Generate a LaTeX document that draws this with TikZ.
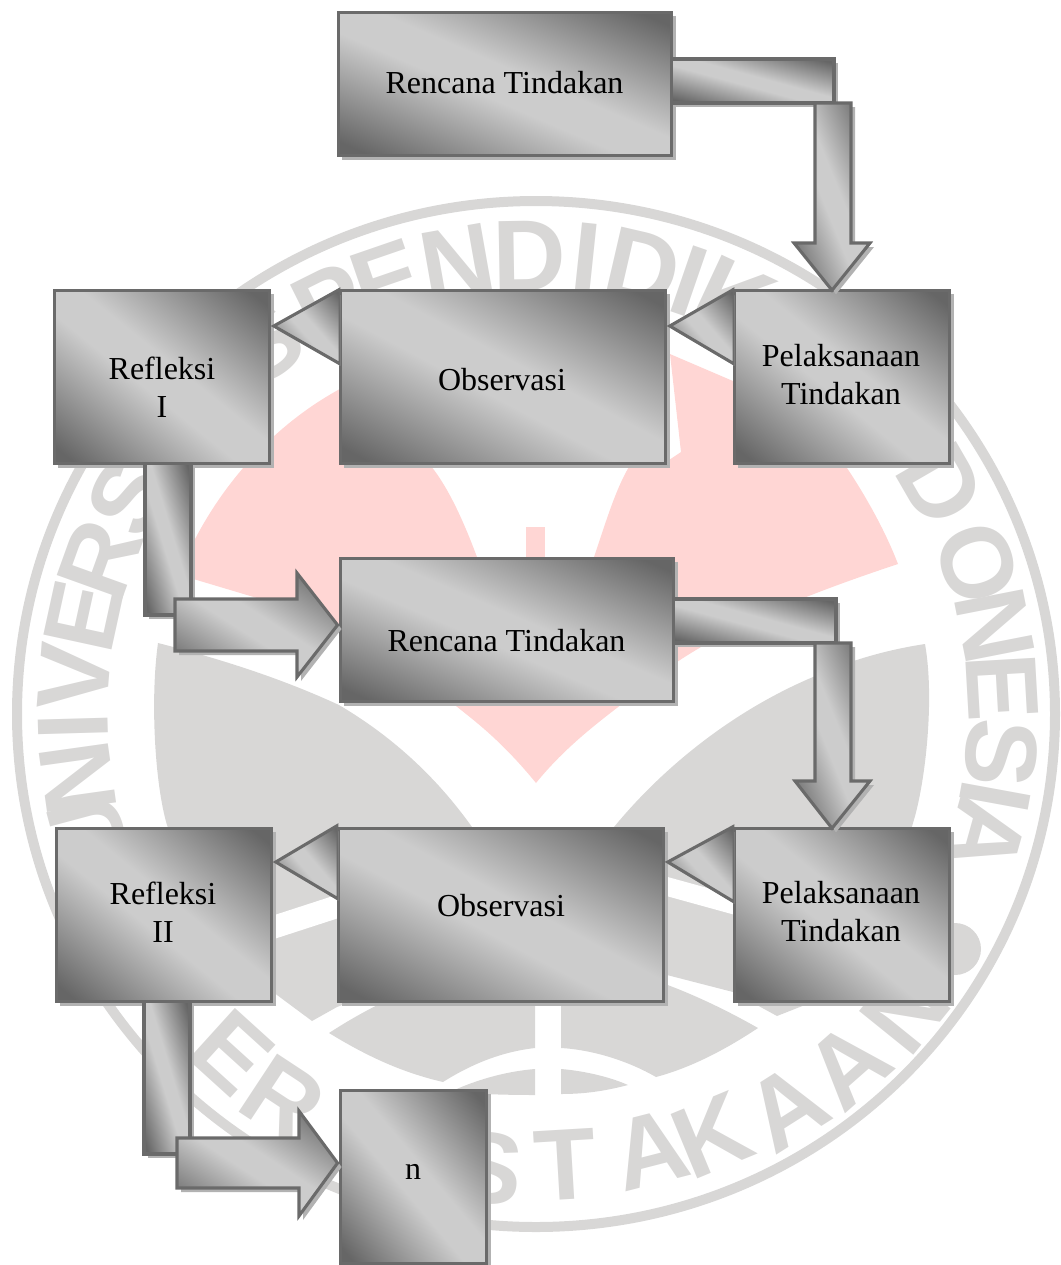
\documentclass[tikz,border=0pt]{standalone}
\usepackage{fontspec}
\setmainfont{Liberation Serif}
\setsansfont{Liberation Sans}
\usetikzlibrary{calc,shadows}

\definecolor{wmgrey}{RGB}{216,215,214}
\definecolor{wmpink}{RGB}{255,214,212}
\definecolor{boxline}{RGB}{106,106,106}
\definecolor{shdark}{RGB}{102,102,102}
\definecolor{shlight}{RGB}{204,204,204}
\definecolor{shadowgrey}{RGB}{178,178,178}

\pgfdeclareverticalshading{boxshade}{100bp}{color(0bp)=(shdark); color(5bp)=(shdark); color(43bp)=(shlight); color(56bp)=(shlight); color(95bp)=(shdark); color(100bp)=(shdark)}

% corner to corner gradient that follows the proportions of the shape
\makeatletter
\newcommand{\boxgradient}{%
    \begin{pgfscope}%
    \pgftransformreset
    \pgfpointdiff{\pgfpointanchor{path picture bounding box}{south west}}{\pgfpointanchor{path picture bounding box}{north east}}%
    \edef\gradw{\the\pgf@x}\edef\gradh{\the\pgf@y}%
    \pgf@process{\pgfpointanchor{path picture bounding box}{center}}%
    \edef\gradx{\the\pgf@x}\edef\grady{\the\pgf@y}%
    \pgfmathsetmacro\gradw{\gradw/100.375}%
    \pgfmathsetmacro\gradh{\gradh/100.375}%
    \pgftransformcm{\gradw}{-\gradh}{\gradw}{\gradh}{\pgfpoint{\gradx}{\grady}}%
    \pgflowlevelsynccm
    \pgftext{\pgfuseshading{boxshade}}%
    \end{pgfscope}%
}
\makeatother

\tikzset{
    shadeface/.style={draw=boxline,line width=2.3pt,path picture={\boxgradient}},
    flowshadow/.style={drop shadow={shadow xshift=3pt,shadow yshift=-3pt,fill=shadowgrey,opacity=1}},
    flowbox/.style 2 args={shadeface,flowshadow,rectangle,inner sep=0pt,outer sep=0pt,
        minimum width={(#1-2.5)*0.75pt},minimum height={(#2-2.5)*0.75pt}},
    flowarrow/.style={shadeface,flowshadow,line join=miter},
    boxtext/.style={align=center,text=black,font=\fontsize{24}{28.5}\selectfont},
    wmletter/.style={text=wmgrey,inner sep=0pt,font=\sffamily\bfseries\fontsize{76}{76}\selectfont}
}

\begin{document}
\begin{tikzpicture}[x=0.75pt,y=0.75pt,yscale=-1,xscale=1]
        \useasboundingbox (0,0) rectangle (1061,1265);

        %Watermark: ring
        \coordinate (wmc) at (538,714);
        \draw [wmgrey,line width=7.5pt] (536,714) ellipse [x radius=519,y radius=513];
        %Watermark: letters
        \foreach \a/\ch [count=\i] in {195/U,188/N,181.6/I,175.4/V,167.7/E,160.2/R,151.7/S,126/S,116.5/P,109/E,100/N,91/D,84/I,77/D,71/I,65/K,30/D,19.2/O,11.1/N,3.3/E,-4.9/S,-10.4/I,-15.5/A}
            \node [wmletter,rotate=\a-90] (uni\i) at ($(wmc)+({-(\a)}:465 and 458)$) {\ch};
        \foreach \a/\x/\y/\ch [count=\i] in {-132.2/232/1052/E,-123.4/283/1100/R,-96/489/1168/S,-86.6/565/1165/T,-75.6/650/1150/A,-67.5/712/1135/K,-57.6/787/1107/A,-48.6/848/1065/A,-38.9/905/1010/N}
            \node [wmletter,rotate=\a+90] (lib\i) at (\x,\y) {\ch};
        %Watermark: dot
        \fill [wmgrey] (955,949) circle [radius=26];

        %Watermark: pink heart
        \fill [wmpink] (180,575) -- (193,543) .. controls (225,480) and (275,425) .. (338,390) -- (402,354) -- (420,440) -- (431,466) .. controls (450,490) and (465,525) .. (477,557) -- (536,640) -- (594,557) .. controls (605,525) and (615,490) .. (630,465) -- (660,466) -- (681,452) -- (670,354) -- (733,381) -- (847,468) .. controls (865,495) and (885,530) .. (898,564) .. controls (820,590) and (740,620) .. (677,662) .. controls (620,707) and (575,735) .. (536,783) .. controls (505,745) and (480,725) .. (461,710) .. controls (400,660) and (330,625) .. (257,598) -- cycle;
        %Watermark: pink stem
        \fill [wmpink,draw=none] (526,527) rectangle (545,600);

        %Watermark: grey wings
        \fill [wmgrey] (158,643) .. controls (225,660) and (285,680) .. (339,705) .. controls (390,735) and (435,775) .. (472,827) -- (510,900) -- (490,950) -- (337,1007) -- (312,1021) -- (277,995) .. controls (225,950) and (190,890) .. (167,825) .. controls (155,785) and (150,700) .. (158,643) -- cycle;
        \fill [wmgrey] (925,644) .. controls (885,650) and (845,662) .. (813,677) .. controls (735,710) and (665,765) .. (614,827) -- (570,900) -- (590,950) -- (667,975) -- (733,992) -- (777,1016) -- (810,1003) .. controls (860,960) and (895,890) .. (913,823) .. controls (925,785) and (935,700) .. (925,644) -- cycle;
        %Watermark: white bands
        \draw [white,line width=17pt] (262,931) -- (342,905);
        \draw [white,line width=14pt] (658,884) -- (745,908);
        %Watermark: grey lenses
        \fill [wmgrey] (329,1033) .. controls (395,990) and (465,965) .. (535,960) -- (535,1048) .. controls (500,1052) and (470,1065) .. (443,1082) .. controls (400,1072) and (365,1055) .. (329,1033) -- cycle;
        \fill [wmgrey] (561,960) .. controls (630,965) and (700,995) .. (758,1028) .. controls (725,1050) and (690,1068) .. (656,1077) .. controls (630,1062) and (595,1050) .. (561,1048) -- cycle;
        \fill [wmgrey] (450,1092) .. controls (480,1078) and (510,1071) .. (535,1069) -- (535,1095) .. controls (505,1095) and (475,1094) .. (450,1092) -- cycle;
        \fill [wmgrey] (561,1069) .. controls (585,1071) and (610,1077) .. (628,1085) .. controls (605,1091) and (585,1094) .. (561,1094) -- cycle;

        %Shape: Boxes row 1
        \node [flowbox={336}{146}] (rt1) at (505,84) {};
        \node [boxtext] (rt1txt) at (504.5,83) {Rencana Tindakan};
        \node [flowbox={218}{176}] (rf1) at (162,377) {};
        \node [boxtext] (rf1txt) at (162,387) {Refleksi\\I};
        \node [flowbox={328}{176}] (ob1) at (503,377) {};
        \node [boxtext] (ob1txt) at (502,380) {Observasi};
        \node [flowbox={218}{176}] (pt1) at (842,377) {};
        \node [boxtext] (pt1txt) at (841,375) {Pelaksanaan\\Tindakan};
        %Shape: Boxes row 2
        \node [flowbox={336}{146}] (rt2) at (507,630) {};
        \node [boxtext] (rt2txt) at (506.5,641) {Rencana Tindakan};
        %Shape: Boxes row 3
        \node [flowbox={218}{176}] (rf2) at (164,915) {};
        \node [boxtext] (rf2txt) at (163,912) {Refleksi\\II};
        \node [flowbox={328}{176}] (ob2) at (501,915) {};
        \node [boxtext] (ob2txt) at (501,906) {Observasi};
        \node [flowbox={218}{176}] (pt2) at (842,915) {};
        \node [boxtext] (pt2txt) at (841,912) {Pelaksanaan\\Tindakan};
        %Shape: Box n
        \node [flowbox={149}{176}] (nn) at (413.5,1177) {};
        \node [boxtext] (nntxt) at (413,1172) {n};

        %Straight Arrows: top elbow
        \draw [flowarrow] (rt1.east |- 0,59) -- (834,59) -- (834,103) -- (rt1.east |- 0,103) -- cycle ;
        \draw [flowarrow] (815,103) -- (851,103) -- (851,243) -- (870,243) -- (832,0 |- pt1.north) -- (794,243) -- (815,243) -- cycle ;
        %Triangles row 1
        \begin{scope}
            \clip (ob1.east |- 0,280) rectangle (pt1.west |- 0,375);
            \draw [flowarrow] (pt1.west |- 0,289) -- ([xshift=3pt]ob1.east |- 0,326) -- (pt1.west |- 0,364) -- cycle ;
        \end{scope}
        \begin{scope}
            \clip (rf1.east |- 0,280) rectangle (ob1.west |- 0,375);
            \draw [flowarrow] (ob1.west |- 0,289) -- ([xshift=3pt]rf1.east |- 0,326) -- (ob1.west |- 0,364) -- cycle ;
        \end{scope}
        %Straight Arrows: left elbow 1
        \draw [flowarrow] (145,0 |- rf1.south) -- (191,0 |- rf1.south) -- (191,615) -- (145,615) -- cycle ;
        \draw [flowarrow] (175,599) -- (297,599) -- (297,573) -- ([xshift=-2pt]rt2.west |- 0,625) -- (297,677) -- (297,651) -- (175,651) -- cycle ;
        %Straight Arrows: middle elbow
        \draw [flowarrow] (rt2.east |- 0,599) -- (836,599) -- (836,643) -- (rt2.east |- 0,643) -- cycle ;
        \draw [flowarrow] (815,643) -- (851,643) -- (851,781) -- (870,781) -- (832,0 |- pt2.north) -- (795,781) -- (815,781) -- cycle ;
        %Triangles row 3
        \begin{scope}
            \clip (ob2.east |- 0,815) rectangle (pt2.west |- 0,915);
            \draw [flowarrow] (pt2.west |- 0,826) -- ([xshift=3pt]ob2.east |- 0,862) -- (pt2.west |- 0,902) -- cycle ;
        \end{scope}
        \begin{scope}
            \clip (rf2.east |- 0,815) rectangle (ob2.west |- 0,915);
            \draw [flowarrow] (ob2.west |- 0,825) -- ([xshift=3pt]rf2.east |- 0,862) -- (ob2.west |- 0,899) -- cycle ;
        \end{scope}
        %Straight Arrows: left elbow 2
        \draw [flowarrow] (144,0 |- rf2.south) -- (190,0 |- rf2.south) -- (190,1154) -- (144,1154) -- cycle ;
        \draw [flowarrow] (177,1138) -- (299,1138) -- (299,1111) -- ([xshift=-2pt]nn.west |- 0,1163) -- (299,1216) -- (299,1188) -- (177,1188) -- cycle ;

    \end{tikzpicture}
\end{document}
